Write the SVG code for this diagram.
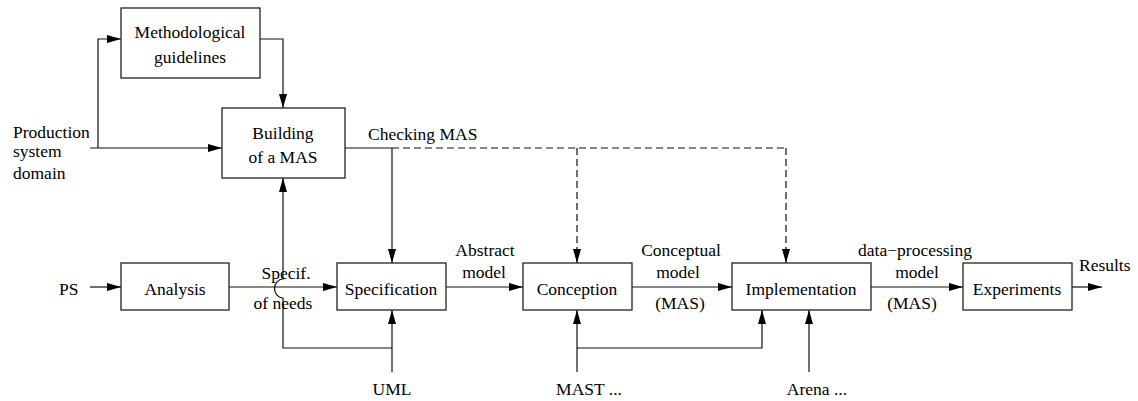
<svg xmlns="http://www.w3.org/2000/svg" width="1138" height="401" viewBox="0 0 1138 401">
<style>
.box{fill:#fff;stroke:#222;stroke-width:1.3}
.ln{fill:none;stroke:#111;stroke-width:1.2}
.dash{fill:none;stroke:#111;stroke-width:1.2;stroke-dasharray:7,4}
text{font-family:'Liberation Serif','DejaVu Serif',serif;font-size:17.5px;fill:#000}
.c{text-anchor:middle}
</style>
<defs>
<marker id="ah" markerUnits="userSpaceOnUse" markerWidth="14" markerHeight="8" refX="14" refY="4" orient="auto">
<path d="M0,0 L14,4 L0,8 z" fill="#000"/>
</marker>
</defs>
<g id="connectors">
<path class="ln" d="M90,148 L222,148" marker-end="url(#ah)"/>
<path class="ln" d="M98,148 L98,39 L121,39" marker-end="url(#ah)"/>
<path class="ln" d="M260,39 L283,39 L283,108" marker-end="url(#ah)"/>
<path class="ln" d="M345,148 L392,148"/>
<path class="ln" d="M392,148 L392,263" marker-end="url(#ah)"/>
<path class="dash" d="M392,148 L786,148"/>
<path class="dash" d="M577,148 L577,263" marker-end="url(#ah)"/>
<path class="dash" d="M786,148 L786,263" marker-end="url(#ah)"/>
<path class="ln" d="M90,287 L121,287" marker-end="url(#ah)"/>
<path class="ln" d="M229,287 L337,287" marker-end="url(#ah)"/>
<path class="ln" d="M446,287 L523,287" marker-end="url(#ah)"/>
<path class="ln" d="M632,287 L732,287" marker-end="url(#ah)"/>
<path class="ln" d="M871,287 L963,287" marker-end="url(#ah)"/>
<path class="ln" d="M1072,287 L1102,287" marker-end="url(#ah)"/>
<path class="ln" d="M392,372 L392,310" marker-end="url(#ah)"/>
<path class="ln" d="M392,348 L283,348 L283,298 A8.5,9.5 0 0 1 283,279 L283,178" marker-end="url(#ah)"/>
<path class="ln" d="M577,372 L577,310" marker-end="url(#ah)"/>
<path class="ln" d="M577,348 L762,348 L762,310" marker-end="url(#ah)"/>
<path class="ln" d="M809,372 L809,310" marker-end="url(#ah)"/>
</g>
<g id="labels">
<text x="13" y="138">Production</text>
<text x="13" y="157">system</text>
<text x="13" y="179">domain</text>
<text x="368" y="140">Checking MAS</text>
<text x="59" y="295">PS</text>
<text class="c" x="286" y="279">Specif.</text>
<text class="c" x="283" y="309">of needs</text>
<text class="c" x="485" y="256">Abstract</text>
<text class="c" x="484" y="278">model</text>
<text class="c" x="681" y="256">Conceptual</text>
<text class="c" x="678" y="278">model</text>
<text class="c" x="680" y="309">(MAS)</text>
<text class="c" x="915" y="256">data−processing</text>
<text class="c" x="917" y="278">model</text>
<text class="c" x="912" y="309">(MAS)</text>
<text x="1079" y="271">Results</text>
<text class="c" x="392" y="395">UML</text>
<text class="c" x="589" y="395">MAST ...</text>
<text class="c" x="817" y="395">Arena ...</text>
</g>
<g id="methodological">
<rect class="box" x="121" y="8" width="139" height="70"/>
<text class="c" x="190" y="38">Methodological</text>
<text class="c" x="190" y="63">guidelines</text>
</g>
<g id="building">
<rect class="box" x="222" y="108" width="123" height="70"/>
<text class="c" x="283" y="139">Building</text>
<text class="c" x="283" y="163">of a MAS</text>
</g>
<g id="analysis">
<rect class="box" x="121" y="263" width="108" height="47"/>
<text class="c" x="175" y="295">Analysis</text>
</g>
<g id="specification">
<rect class="box" x="337" y="263" width="109" height="47"/>
<text class="c" x="391" y="295">Specification</text>
</g>
<g id="conception">
<rect class="box" x="523" y="263" width="109" height="47"/>
<text class="c" x="577" y="295">Conception</text>
</g>
<g id="implementation">
<rect class="box" x="732" y="263" width="139" height="47"/>
<text class="c" x="801" y="295">Implementation</text>
</g>
<g id="experiments">
<rect class="box" x="963" y="263" width="109" height="47"/>
<text class="c" x="1017" y="295">Experiments</text>
</g>
</svg>
